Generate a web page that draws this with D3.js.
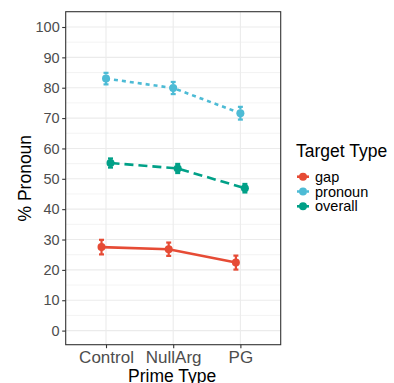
<!DOCTYPE html>
<html>
<head>
<meta charset="utf-8">
<script src="https://cdn.jsdelivr.net/npm/d3@7"></script>
<style>
  body { margin: 0; background: #fff; }
  text { font-family: "Liberation Sans", Arial, sans-serif; }
</style>
</head>
<body>
<div id="chart"></div>
<script>
const primeTypes = ["Control", "NullArg", "PG"];
const targetTypes = ["gap", "pronoun", "overall"];
const colors = ["#E64B35", "#4DBBD5", "#00A087"];
const dashes = ["none", "4,4", "9,5"];
const gapMean = [27.5, 26.8, 22.4];
const gapErr = [2.4, 2.2, 2.3];
const pronounMean = [83.0, 79.9, 71.6];
const pronounErr = [1.9, 2.0, 2.1];
const overallMean = [55.2, 53.4, 46.9];
const overallErr = [1.5, 1.5, 1.4];
const yTicks = [0, 10, 20, 30, 40, 50, 60, 70, 80, 90, 100];

const series = [
  {name: "gap", mean: gapMean, err: gapErr, dodge: -4.5},
  {name: "pronoun", mean: pronounMean, err: pronounErr, dodge: 0},
  {name: "overall", mean: overallMean, err: overallErr, dodge: 4.5}
];

const W = 394, H = 383;
const panel = {left: 65.7, right: 280.7, top: 11.7, bottom: 344.7};

const svg = d3.select("#chart").append("svg")
  .attr("width", W).attr("height", H);

const x = d3.scalePoint().domain(primeTypes)
  .range([panel.left, panel.right]).padding(0.6);
const y = d3.scaleLinear().domain([0, 100]).range([330.6, 27]);
const color = d3.scaleOrdinal().domain(targetTypes).range(colors);
const dash = d3.scaleOrdinal().domain(targetTypes).range(dashes);

// grid
const grid = svg.append("g");
const minor = d3.range(5, 100, 10);
grid.selectAll(".minor").data(minor).enter().append("line")
  .attr("x1", panel.left).attr("x2", panel.right)
  .attr("y1", d => y(d)).attr("y2", d => y(d))
  .attr("stroke", "#ebebeb").attr("stroke-width", 0.6);
grid.selectAll(".majorY").data(yTicks).enter().append("line")
  .attr("x1", panel.left).attr("x2", panel.right)
  .attr("y1", d => y(d)).attr("y2", d => y(d))
  .attr("stroke", "#ebebeb").attr("stroke-width", 1.1);
grid.selectAll(".majorX").data(primeTypes).enter().append("line")
  .attr("x1", d => x(d)).attr("x2", d => x(d))
  .attr("y1", panel.top).attr("y2", panel.bottom)
  .attr("stroke", "#ebebeb").attr("stroke-width", 1.1);

// lines, error bars, points
const line = d3.line();
series.forEach(s => {
  const pts = primeTypes.map((p, i) => [x(p) + s.dodge, y(s.mean[i])]);
  const g = svg.append("g");
  g.append("path")
    .attr("d", line(pts))
    .attr("fill", "none")
    .attr("stroke", color(s.name))
    .attr("stroke-width", 2.6)
    .attr("stroke-dasharray", dash(s.name));
  primeTypes.forEach((p, i) => {
    const cx = x(p) + s.dodge;
    const lo = y(s.mean[i] - s.err[i]), hi = y(s.mean[i] + s.err[i]);
    g.append("line").attr("x1", cx).attr("x2", cx).attr("y1", lo).attr("y2", hi)
      .attr("stroke", color(s.name)).attr("stroke-width", 2.2)
      .attr("stroke-dasharray", dash(s.name) === "none" ? "none" : "3,2");
    [lo, hi].forEach(v => {
      g.append("line").attr("x1", cx - 2.5).attr("x2", cx + 2.5).attr("y1", v).attr("y2", v)
        .attr("stroke", color(s.name)).attr("stroke-width", 2.2);
    });
    g.append("circle").attr("cx", cx).attr("cy", y(s.mean[i])).attr("r", 4)
      .attr("fill", color(s.name));
  });
});

// border
svg.append("rect")
  .attr("x", panel.left).attr("y", panel.top)
  .attr("width", panel.right - panel.left).attr("height", panel.bottom - panel.top)
  .attr("fill", "none").attr("stroke", "#333").attr("stroke-width", 1.1);

// axes
const yAxis = svg.append("g").attr("transform", `translate(${panel.left},0)`)
  .call(d3.axisLeft(y).tickValues(yTicks).tickSize(3.5).tickPadding(2.5));
yAxis.select(".domain").remove();
yAxis.selectAll("line").attr("stroke", "#333").attr("stroke-width", 1.1);
yAxis.selectAll("text").attr("fill", "#4d4d4d").style("font-size", "14.5px")
  .style("font-family", "Liberation Sans, Arial, sans-serif");

const xAxis = svg.append("g").attr("transform", `translate(0,${panel.bottom})`)
  .call(d3.axisBottom(x).tickSize(3.5).tickPadding(3));
xAxis.select(".domain").remove();
xAxis.selectAll("line").attr("stroke", "#333").attr("stroke-width", 1.1);
xAxis.selectAll("text").attr("fill", "#4d4d4d").style("font-size", "17px")
  .style("font-family", "Liberation Sans, Arial, sans-serif");

svg.append("text")
  .attr("x", (panel.left + panel.right) / 2 - 1).attr("y", 382)
  .attr("text-anchor", "middle").attr("fill", "#000")
  .style("font-size", "17.5px").text("Prime Type");

svg.append("text")
  .attr("transform", `translate(31,${(panel.top + panel.bottom) / 2}) rotate(-90)`)
  .attr("text-anchor", "middle").attr("fill", "#000")
  .style("font-size", "17.5px").text("% Pronoun");

// legend
const legend = svg.append("g").attr("transform", "translate(296,0)");
legend.append("text").attr("x", 0).attr("y", 157)
  .style("font-size", "17.5px").attr("fill", "#000").text("Target Type");
targetTypes.forEach((t, i) => {
  const cy = 176.7 + i * 14.8;
  legend.append("line").attr("x1", 1).attr("x2", 13).attr("y1", cy).attr("y2", cy)
    .attr("stroke", color(t)).attr("stroke-width", 2.6)
    .attr("stroke-dasharray", t === "pronoun" ? "3,2" : "none");
  legend.append("circle").attr("cx", 7).attr("cy", cy).attr("r", 4).attr("fill", color(t));
  legend.append("text").attr("x", 19).attr("y", cy + 5)
    .style("font-size", "14.5px").attr("fill", "#000").text(t);
});
</script>
</body>
</html>
